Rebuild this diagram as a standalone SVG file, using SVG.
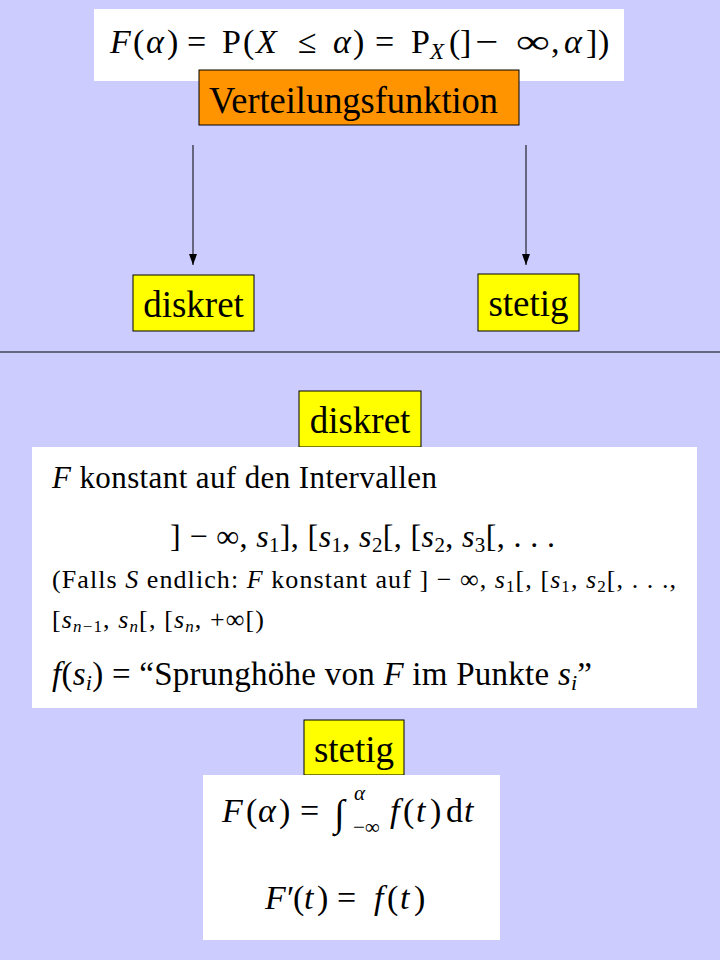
<svg xmlns="http://www.w3.org/2000/svg" width="720" height="960" viewBox="0 0 720 960">
<defs>
<style>
text{font-family:'Liberation Serif','Times New Roman','DejaVu Serif',serif;fill:#000}
.i{font-style:italic}
.box{stroke:#000;stroke-width:1}
.y{fill:#FFFF00}
.w{fill:#FFFFFF}
.lbl{font-size:37px}
.m{font-size:34px}
</style>
<marker id="arr" markerWidth="8" markerHeight="11" refX="4" refY="11" orient="0" markerUnits="userSpaceOnUse" viewBox="0 0 8 11">
<path d="M0,0 L8,0 L4,11 Z" fill="#000"/>
</marker>
</defs>
<rect width="720" height="960" fill="#CCCCFF"/>

<g id="formula-top">
<rect x="94" y="9" width="530" height="72" class="w"/>
<text class="m" y="53"><tspan x="110" class="i">F</tspan><tspan x="133">(</tspan><tspan x="146" class="i">α</tspan><tspan x="167">)</tspan><tspan x="187">=</tspan><tspan x="222">P</tspan><tspan x="243">(</tspan><tspan x="256" class="i">X</tspan><tspan x="298">≤</tspan><tspan x="333" class="i">α</tspan><tspan x="353">)</tspan><tspan x="375">=</tspan><tspan x="411">P</tspan><tspan x="430" class="i" font-size="23" dy="6">X</tspan><tspan x="449" dy="-6">(</tspan><tspan x="460">]</tspan><tspan x="551">,</tspan><tspan x="564" class="i">α</tspan><tspan x="586">]</tspan><tspan x="598">)</tspan></text>
<text class="m" x="475" y="53" textLength="23" lengthAdjust="spacingAndGlyphs">−</text>
<text class="m" x="516" y="53" textLength="34" lengthAdjust="spacingAndGlyphs">∞</text>
</g>

<g id="verteilungsfunktion">
<rect x="199" y="70" width="320" height="55" fill="#FF9400" class="box"/>
<text x="353.5" y="113" font-size="37" text-anchor="middle" textLength="289" lengthAdjust="spacingAndGlyphs">Verteilungsfunktion</text>
</g>

<g id="connectors" stroke="#000" stroke-width="1">
<line x1="193" y1="145" x2="193" y2="265" marker-end="url(#arr)"/>
<line x1="526" y1="145" x2="526" y2="265" marker-end="url(#arr)"/>
<line x1="0" y1="352" x2="720" y2="352"/>
</g>

<g id="diskret-top">
<rect x="133" y="275" width="121" height="56" class="box y"/>
<text class="lbl" x="193.5" y="317" text-anchor="middle">diskret</text>
</g>

<g id="stetig-top">
<rect x="478" y="274" width="101" height="57" class="box y"/>
<text class="lbl" x="528.5" y="316" text-anchor="middle">stetig</text>
</g>

<g id="diskret-label">
<rect x="299" y="391" width="122" height="56" class="box y"/>
<text class="lbl" x="360" y="433" text-anchor="middle">diskret</text>
</g>

<g id="diskret-box">
<rect x="32" y="447" width="665" height="261" class="w"/>
<text x="52" y="488" font-size="31" textLength="385" lengthAdjust="spacing"><tspan class="i">F</tspan> konstant auf den Intervallen</text>
<text x="170" y="547" font-size="32" textLength="385" lengthAdjust="spacing">] − ∞, <tspan class="i">s</tspan><tspan font-size="21" dy="5">1</tspan><tspan dy="-5">],  [</tspan><tspan class="i">s</tspan><tspan font-size="21" dy="5">1</tspan><tspan dy="-5">, </tspan><tspan class="i">s</tspan><tspan font-size="21" dy="5">2</tspan><tspan dy="-5">[,  [</tspan><tspan class="i">s</tspan><tspan font-size="21" dy="5">2</tspan><tspan dy="-5">, </tspan><tspan class="i">s</tspan><tspan font-size="21" dy="5">3</tspan><tspan dy="-5">[, . . .</tspan></text>
<text x="52" y="588" font-size="26" textLength="624" lengthAdjust="spacing">(Falls <tspan class="i">S</tspan> endlich:  <tspan class="i">F</tspan> konstant  auf  ] − ∞, <tspan class="i">s</tspan><tspan font-size="17" dy="4">1</tspan><tspan dy="-4">[,  [</tspan><tspan class="i">s</tspan><tspan font-size="17" dy="4">1</tspan><tspan dy="-4">, </tspan><tspan class="i">s</tspan><tspan font-size="17" dy="4">2</tspan><tspan dy="-4">[,  . . .,</tspan></text>
<text x="52" y="628" font-size="26" textLength="212" lengthAdjust="spacing">[<tspan class="i">s</tspan><tspan font-size="17" dy="4"><tspan class="i">n</tspan>−1</tspan><tspan dy="-4">, </tspan><tspan class="i">s</tspan><tspan font-size="17" dy="4" class="i">n</tspan><tspan dy="-4">[, [</tspan><tspan class="i">s</tspan><tspan font-size="17" dy="4" class="i">n</tspan><tspan dy="-4">, +∞[)</tspan></text>
<text x="52" y="685" font-size="33" textLength="540" lengthAdjust="spacing"><tspan class="i">f</tspan>(<tspan class="i">s</tspan><tspan class="i" font-size="22" dy="5">i</tspan><tspan dy="-5">) = “Sprunghöhe von </tspan><tspan class="i">F</tspan> im Punkte <tspan class="i">s</tspan><tspan class="i" font-size="22" dy="5">i</tspan><tspan dy="-5">”</tspan></text>
</g>

<g id="stetig-label">
<rect x="304" y="720" width="100" height="55" class="box y"/>
<text class="lbl" x="354" y="762" text-anchor="middle">stetig</text>
</g>

<g id="stetig-box">
<rect x="203" y="775" width="297" height="165" class="w"/>
<text class="m" y="822"><tspan x="222" class="i">F</tspan><tspan x="246">(</tspan><tspan x="258" class="i">α</tspan><tspan x="279">)</tspan><tspan x="300">=</tspan></text>
<text x="334" y="826" font-size="38">∫</text>
<text x="354" y="800" font-size="21" class="i">α</text>
<text x="353" y="834" font-size="21">−∞</text>
<text class="m" y="822"><tspan x="390" class="i">f</tspan><tspan x="403">(</tspan><tspan x="416" class="i">t</tspan><tspan x="430">)</tspan><tspan x="446">d</tspan><tspan x="464" class="i">t</tspan></text>
<text class="m" y="909"><tspan x="265" class="i">F</tspan><tspan x="287">′</tspan><tspan x="293">(</tspan><tspan x="304" class="i">t</tspan><tspan x="317">)</tspan><tspan x="337">=</tspan><tspan x="374" class="i">f</tspan><tspan x="387">(</tspan><tspan x="400" class="i">t</tspan><tspan x="414">)</tspan></text>
</g>
</svg>
